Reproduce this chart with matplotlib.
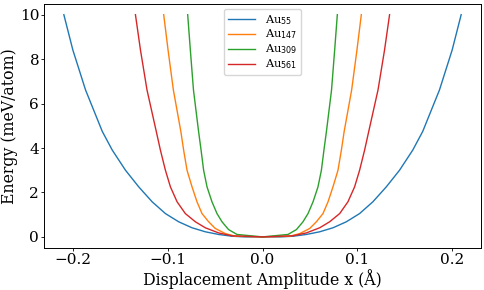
import numpy as np
import matplotlib
matplotlib.use("Agg")
import matplotlib.pyplot as plt

plt.rcParams['font.family'] = 'DejaVu Serif'
plt.rcParams['mathtext.fontset'] = 'dejavusans'

# positive branch (curves are symmetric about x = 0)
x_au55 = [0.0, 0.0182, 0.0322, 0.0463, 0.0603, 0.0743, 0.0884, 0.1024, 0.1164,
          0.1305, 0.1445, 0.1585, 0.169, 0.1866, 0.2, 0.2095]
e_au55 = [0.0, 0.0, 0.03, 0.11, 0.23, 0.41, 0.68, 1.05, 1.58,
          2.25, 3.0, 3.91, 4.75, 6.61, 8.41, 10.0]

x_au147 = [0.0, 0.0287, 0.0393, 0.0498, 0.0568, 0.0638, 0.0691, 0.0743, 0.0796,
           0.0832, 0.0861, 0.094, 0.0996, 0.1042]
e_au147 = [0.0, 0.03, 0.15, 0.38, 0.68, 1.05, 1.58, 2.25, 3.0,
           3.91, 4.74, 6.61, 8.41, 10.0]

x_au309 = [0.0, 0.0269, 0.0358, 0.0427, 0.048, 0.0533, 0.0585, 0.0621, 0.0648,
           0.0674, 0.0728, 0.0761, 0.0789]
e_au309 = [0.0, 0.11, 0.33, 0.68, 1.05, 1.58, 2.25, 3.0, 3.91,
           4.74, 6.61, 8.41, 10.0]

x_au561 = [0.0, 0.0322, 0.0463, 0.0603, 0.0708, 0.0814, 0.0901, 0.0971, 0.1024,
           0.1077, 0.112, 0.1218, 0.1287, 0.134]
e_au561 = [0.0, 0.05, 0.18, 0.41, 0.68, 1.05, 1.58, 2.25, 3.0,
           3.91, 4.74, 6.61, 8.41, 10.0]

series = [
    ('Au$_{55}$', x_au55, e_au55),
    ('Au$_{147}$', x_au147, e_au147),
    ('Au$_{309}$', x_au309, e_au309),
    ('Au$_{561}$', x_au561, e_au561),
]

fig = plt.figure(figsize=(4.85, 2.9), dpi=100)
ax = fig.add_axes([0.0907, 0.1448, 0.9011, 0.8428])

for label, xs, es in series:
    xs = np.array(xs)
    es = np.array(es)
    xx = np.concatenate([-xs[::-1], xs[1:]])
    ee = np.concatenate([es[::-1], es[1:]])
    ax.plot(xx, ee, linewidth=1.0, label=label)

ax.set_xlabel("Displacement Amplitude x (Å)", fontsize=11.3, labelpad=1.5)
ax.set_ylabel("Energy (meV/atom)", fontsize=11.3, labelpad=1)
ax.tick_params(labelsize=11, length=2, pad=1.5, width=0.6)
for sp in ax.spines.values():
    sp.set_linewidth(0.7)
ax.legend(loc='upper center', fontsize=8.2, labelspacing=0.1,
          handlelength=2.4, borderaxespad=0.45, borderpad=0.35)

fig.savefig("out.png", dpi=100)
